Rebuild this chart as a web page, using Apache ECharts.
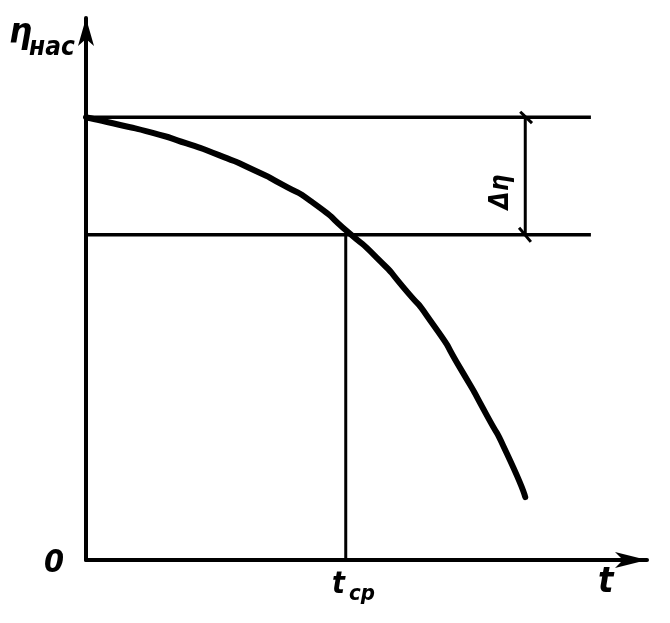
<!DOCTYPE html>
<html>
<head>
<meta charset="utf-8">
<script src="https://cdn.jsdelivr.net/npm/echarts@6/dist/echarts.min.js"></script>
<style>html,body{margin:0;padding:0;background:#fff;}#c{width:670px;height:623px;}</style>
</head>
<body>
<div id="c"></div>
<script>
// Curve η_нас(t) (arbitrary units, axes 0..10)
var curveT   = [0, 0.59, 1.19, 1.78, 2.37, 2.98, 3.51, 4.05, 4.67, 5.19, 5.65, 6.19, 6.67, 7.15, 7.50, 7.83];
var curveEta = [8.17, 8.03, 7.88, 7.69, 7.47, 7.20, 6.92, 6.59, 6.05, 5.57, 5.04, 4.34, 3.54, 2.66, 1.97, 1.16];
// reference levels
var etaTop = 8.17;      // initial η
var etaCp = 6.00;       // η at t_cp
var tCp = 4.63;         // t_cp
var lineEnd = 9.00;     // right end of horizontal lines
var dimX = 7.83;        // dimension line position
var slashTop = [[7.74, 8.27], [7.95, 8.06]];
var slashBottom = [[7.72, 6.13], [7.93, 5.87]];
// labels
var yLabelMain = 'η', yLabelSub = 'нас';
var xLabel = 't';
var tcpMain = 't', tcpSub = 'ср';
var zeroLabel = '0';
var deltaLabel = 'Δη';

var FONT = '"DejaVu Sans Condensed", "DejaVu Sans", sans-serif';
var chart = echarts.init(document.getElementById('c'));

function seg(data, w) {
  return {
    type: 'line', data: data, symbol: 'none', silent: true, animation: false,
    lineStyle: { color: '#000', width: w }
  };
}
var curveData = curveT.map(function (t, i) { return [t, curveEta[i]]; });

var txt = function (x, y, text, size) {
  return {
    type: 'text', x: x, y: y,
    style: { text: text, fill: '#000', font: 'italic bold ' + size + 'px ' + FONT,
             textAlign: 'left', textVerticalAlign: 'top' }
  };
};

chart.setOption({
  backgroundColor: '#fff',
  animation: false,
  grid: { left: 86, top: 18, width: 561, height: 542 },
  xAxis: {
    type: 'value', min: 0, max: 10,
    axisLine: { show: true, symbol: ['none', 'arrow'], symbolSize: [12, 32],
                lineStyle: { color: '#000', width: 4 } },
    axisTick: { show: false }, axisLabel: { show: false }, splitLine: { show: false }
  },
  yAxis: {
    type: 'value', min: 0, max: 10,
    axisLine: { show: true, symbol: ['none', 'arrow'], symbolSize: [12, 28],
                lineStyle: { color: '#000', width: 4 } },
    axisTick: { show: false }, axisLabel: { show: false }, splitLine: { show: false }
  },
  series: [
    seg([[0, etaTop], [lineEnd, etaTop]], 3.5),
    seg([[0, etaCp], [lineEnd, etaCp]], 3.5),
    seg([[tCp, 0], [tCp, etaCp]], 3),
    seg([[dimX, etaTop], [dimX, etaCp]], 3),
    seg(slashTop, 3),
    seg(slashBottom, 3),
    {
      type: 'line', data: curveData, smooth: 0.8, symbol: 'none', silent: true,
      lineStyle: { color: '#000', width: 6, cap: 'round' }
    }
  ],
  graphic: [
    txt(9, 16, yLabelMain, 36),
    txt(29, 35, yLabelSub, 26),
    txt(598, 565, xLabel, 36),
    txt(332, 570, tcpMain, 30),
    txt(349, 583, tcpSub, 22),
    txt(44, 548, zeroLabel, 32),
    {
      type: 'text', x: 501, y: 192, rotation: Math.PI / 2,
      style: { text: deltaLabel, fill: '#000', font: 'italic bold 26px ' + FONT,
               textAlign: 'center', textVerticalAlign: 'middle' }
    }
  ]
});
</script>
</body>
</html>
